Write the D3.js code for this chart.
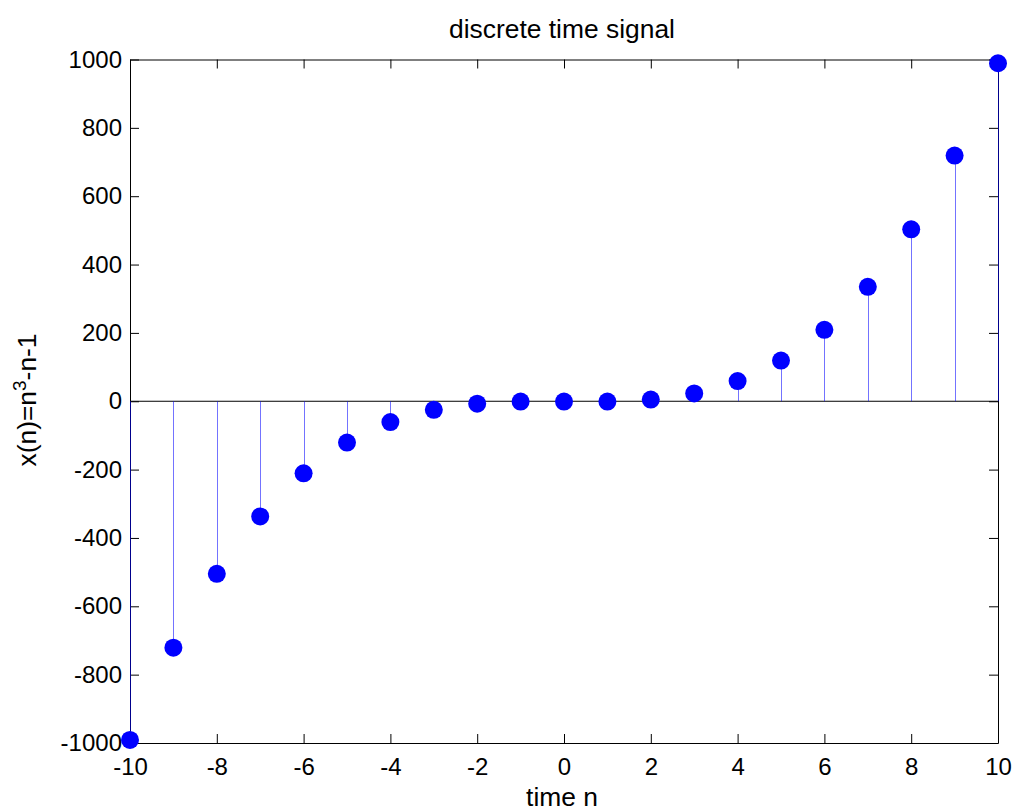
<!DOCTYPE html>
<html>
<head>
<meta charset="utf-8">
<script src="https://cdn.jsdelivr.net/npm/d3@7"></script>
<style>
  body { margin: 0; background: #fff; }
  svg { display: block; font-family: "Liberation Sans", Arial, sans-serif; }
</style>
</head>
<body>
<svg id="chart" width="1014" height="812"></svg>
<script>
// Sample indices and signal values x(n) = n^3 - n - 1
const n = [-10, -9, -8, -7, -6, -5, -4, -3, -2, -1, 0, 1, 2, 3, 4, 5, 6, 7, 8, 9, 10];
const xn = [-991, -721, -505, -337, -211, -121, -61, -25, -7, -1, -1, -1, 5, 23, 59, 119, 209, 335, 503, 719, 989];
const xTicks = [-10, -8, -6, -4, -2, 0, 2, 4, 6, 8, 10];
const yTicks = [-1000, -800, -600, -400, -200, 0, 200, 400, 600, 800, 1000];

(function draw() {
  const svg = d3.select("#chart");
  const L = 130, R = 998, T = 59.5, B = 743;
  const tickFont = 24, labelFont = 26.4;

  const x = d3.scaleLinear().domain([-10, 10]).range([L, R]);
  const y = d3.scaleLinear().domain([-1000, 1000]).range([B, T]);

  const tickLen = 9;
  const fmt = d => String(d);

  // Axis box with inward ticks on all four sides
  const axBottom = d3.axisBottom(x).tickValues(xTicks).tickFormat(fmt).tickSizeInner(-tickLen).tickSizeOuter(0).tickPadding(15);
  const axTop = d3.axisTop(x).tickValues(xTicks).tickSizeInner(-tickLen).tickSizeOuter(0).tickFormat("");
  const axLeft = d3.axisLeft(y).tickValues(yTicks).tickFormat(fmt).tickSizeInner(-tickLen).tickSizeOuter(0).tickPadding(8);
  const axRight = d3.axisRight(y).tickValues(yTicks).tickSizeInner(-tickLen).tickSizeOuter(0).tickFormat("");

  function style(g) {
    g.attr("font-family", null).attr("font-size", null);
    g.selectAll("path.domain").attr("stroke", "#000").attr("stroke-width", 1);
    g.selectAll(".tick line").attr("stroke", "#000").attr("stroke-width", 1);
    g.selectAll(".tick text").attr("fill", "#000").attr("font-size", tickFont);
  }

  svg.append("g").attr("transform", `translate(0,${B})`).call(axBottom).call(style);
  svg.append("g").attr("transform", `translate(0,${T})`).call(axTop).call(style);
  svg.append("g").attr("transform", `translate(${L},0)`).call(axLeft).call(style);
  svg.append("g").attr("transform", `translate(${R},0)`).call(axRight).call(style);

  // Zero baseline
  svg.append("line")
    .attr("x1", L).attr("x2", R)
    .attr("y1", y(0)).attr("y2", y(0))
    .attr("stroke", "#000").attr("stroke-width", 1);

  const data = n.map((v, i) => ({ n: v, v: xn[i] }));
  const px = d => Math.round(x(d.n)) + 0.5;

  // Stems
  svg.append("g").selectAll("line")
    .data(data).join("line")
    .attr("x1", px).attr("x2", px)
    .attr("y1", y(0)).attr("y2", d => y(d.v))
    .attr("stroke", "#0000ff").attr("stroke-opacity", 0.55).attr("stroke-width", 1);

  // Markers
  svg.append("g").selectAll("circle")
    .data(data).join("circle")
    .attr("cx", d => x(d.n)).attr("cy", d => y(d.v))
    .attr("r", 9)
    .attr("fill", "#0000ff");

  // Title and axis labels
  svg.append("text")
    .attr("x", 562).attr("y", 38)
    .attr("text-anchor", "middle").attr("font-size", labelFont).attr("fill", "#000")
    .text("discrete time signal");

  svg.append("text")
    .attr("x", 562).attr("y", 806)
    .attr("text-anchor", "middle").attr("font-size", labelFont).attr("fill", "#000")
    .text("time n");

  const yl = svg.append("text")
    .attr("transform", `translate(36,400) rotate(-90)`)
    .attr("text-anchor", "middle").attr("font-size", labelFont).attr("fill", "#000");
  yl.append("tspan").text("x(n)=n");
  yl.append("tspan").attr("baseline-shift", "super").attr("font-size", 19).text("3");
  yl.append("tspan").text("-n-1");
})();
</script>
</body>
</html>
